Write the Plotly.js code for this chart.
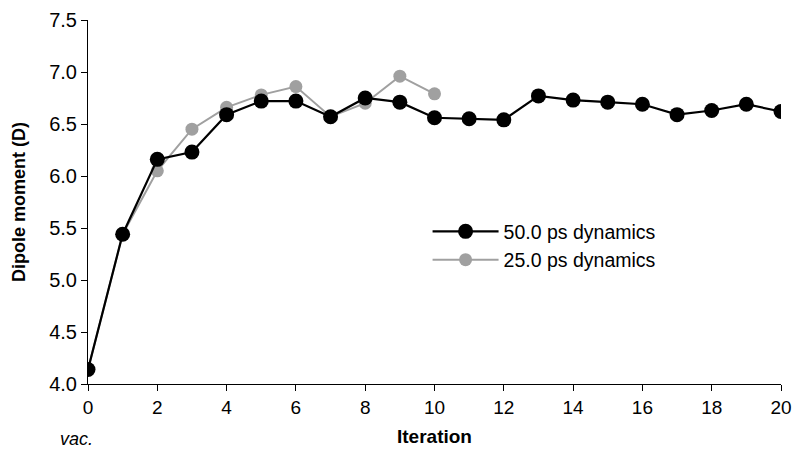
<!DOCTYPE html>
<html>
<head>
<meta charset="utf-8">
<script src="https://cdn.plot.ly/plotly-3.0.1.min.js"></script>
<style>html,body{margin:0;padding:0;background:#fff;}#chart{width:794px;height:450px;}</style>
</head>
<body>
<div id="chart"></div>
<script>
const iterations50 = [0,1,2,3,4,5,6,7,8,9,10,11,12,13,14,15,16,17,18,19,20];
const dipole50 = [4.14,5.44,6.16,6.23,6.59,6.72,6.72,6.57,6.75,6.71,6.56,6.55,6.54,6.77,6.73,6.71,6.69,6.59,6.63,6.69,6.62];
const iterations25 = [0,1,2,3,4,5,6,7,8,9,10];
const dipole25 = [4.14,5.44,6.05,6.45,6.66,6.78,6.86,6.57,6.70,6.96,6.79];
const xTicks = [0,2,4,6,8,10,12,14,16,18,20];
const yTicks = [4.0,4.5,5.0,5.5,6.0,6.5,7.0,7.5];
const seriesNames = ["50.0 ps dynamics","25.0 ps dynamics"];

const font = "Liberation Sans, Arial, Helvetica, sans-serif";

const traces = [
  {x: iterations25, y: dipole25, name: seriesNames[1], mode: "lines+markers",
   line: {color: "#a0a0a0", width: 2}, marker: {color: "#a0a0a0", size: 13}},
  {x: iterations50, y: dipole50, name: seriesNames[0], mode: "lines+markers",
   line: {color: "#000000", width: 2.2}, marker: {color: "#000000", size: 15}}
];

const layout = {
  width: 794, height: 450,
  margin: {l: 88, r: 13, t: 20, b: 66},
  paper_bgcolor: "#fff", plot_bgcolor: "#fff",
  font: {family: font, size: 19, color: "#000"},
  showlegend: true,
  legend: {x: 0.49, y: 0.472, xanchor: "left", yanchor: "top", traceorder: "reversed",
           bgcolor: "rgba(0,0,0,0)", font: {size: 19.5}, tracegroupgap: 0, itemwidth: 66},
  xaxis: {range: [0, 20], tickvals: xTicks, ticktext: xTicks.map(String),
          showgrid: false, zeroline: false, showline: true, linecolor: "#000", linewidth: 1,
          ticks: "outside", ticklen: 6, tickcolor: "#000", tickfont: {size: 19},
          title: {text: "<b>Iteration</b>", font: {size: 19}, standoff: 12}},
  yaxis: {range: [4.0, 7.5], tickvals: yTicks, ticktext: yTicks.map(v => v.toFixed(1)),
          showgrid: false, zeroline: false, showline: true, linecolor: "#000", linewidth: 1,
          ticks: "outside", ticklen: 6, tickcolor: "#000", tickfont: {size: 20},
          title: {text: "<b>Dipole moment (D)</b>", font: {size: 18}, standoff: 18}},
  annotations: [
    {text: "<i>vac.</i>", xref: "paper", yref: "paper", x: -0.043, y: -0.152,
     xanchor: "left", yanchor: "middle", showarrow: false, font: {size: 18}}
  ]
};

Plotly.newPlot("chart", traces, layout, {displayModeBar: false, staticPlot: true});
</script>
</body>
</html>
